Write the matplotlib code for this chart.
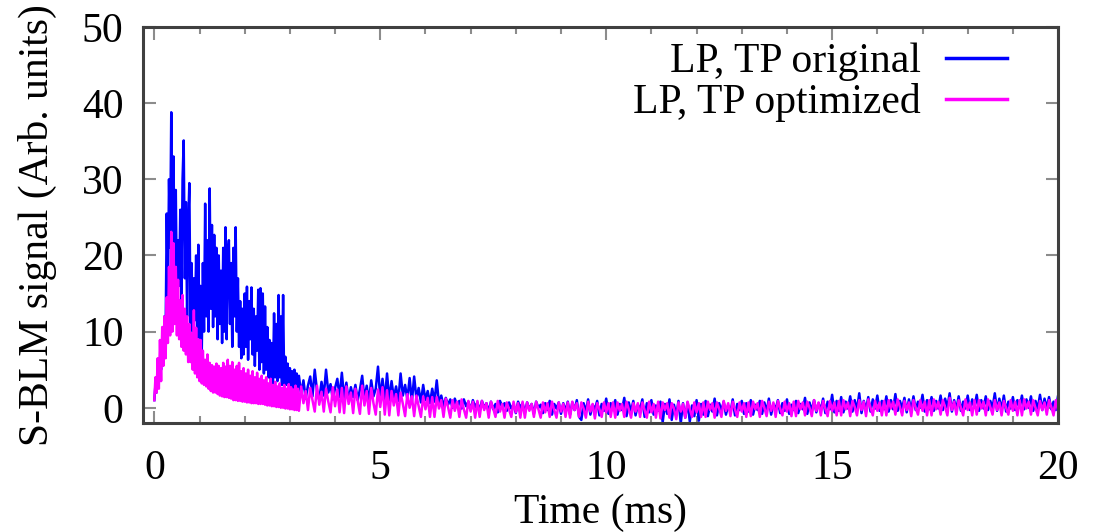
import numpy as np
import matplotlib
matplotlib.use('Agg')
import matplotlib.pyplot as plt
from matplotlib.ticker import MultipleLocator

# S-BLM signal
# early part: one value every 0.025 ms from t = 0
early_step = 0.025
blue_early = [
    1.0, 3.0, 2.0, 4.5, 3.5, 6.0, 5.0, 8.0,
    7.0, 12.0, 9.5, 25.5, 14.0, 30.0, 21.0, 38.8,
    18.0, 33.0, 15.0, 28.6, 13.5, 22.0, 16.0, 26.0,
    14.0, 30.0, 35.1, 17.0, 27.0, 12.0, 24.0, 29.5,
    11.0, 19.0, 10.0, 17.0, 11.5, 20.0, 9.0, 21.4,
    8.0, 16.0, 7.5, 19.0, 10.0, 26.8, 12.0, 22.0,
    10.0, 28.8, 13.0, 24.0, 10.6, 22.7, 12.0, 21.0,
    9.0, 20.0, 11.0, 18.0, 8.5, 21.0, 10.0, 23.7,
    9.0, 20.0, 22.0, 11.0, 19.0, 8.0, 21.0, 12.0,
    23.7, 10.0, 17.0, 8.0, 14.0, 6.5, 13.0, 7.0,
    15.0, 8.0, 15.9, 6.3, 14.0, 9.0, 15.8, 7.0,
    13.0, 5.5, 12.0, 7.5, 15.5, 5.0, 15.7, 6.0,
    15.0, 4.5, 13.3, 5.0, 10.6, 4.0, 8.9, 3.5,
    8.5, 3.2, 12.4, 4.0, 11.0, 3.5, 14.8, 4.0,
    12.0, 3.0, 14.8, 2.5, 6.7, 3.0, 5.8, 2.8,
    5.2, 2.5, 4.8, 2.0, 5.0, 2.2, 4.5, 1.8,
]
magenta_early = [
    1.0, 4.0, 2.0, 6.5, 2.5, 8.9, 3.5, 10.6,
    5.5, 12.0, 6.5, 14.5, 8.5, 18.5, 9.5, 23.1,
    10.0, 21.6, 11.0, 18.5, 9.5, 16.8, 9.0, 14.1,
    8.0, 14.8, 7.5, 13.0, 7.0, 12.0, 6.0, 11.0,
    6.0, 9.8, 5.0, 12.8, 4.5, 10.5, 4.0, 9.0,
    3.5, 8.9, 3.2, 7.5, 3.0, 6.3, 2.8, 7.0,
    2.5, 5.9, 2.2, 5.6, 2.0, 5.4, 2.0, 5.8,
    1.8, 5.5, 1.6, 5.2, 1.5, 5.9, 1.4, 5.4,
    1.4, 6.3, 1.3, 5.5, 1.2, 6.0, 1.0, 5.0,
    1.0, 5.5, 0.9, 5.9, 0.9, 4.8, 0.8, 5.2,
    0.8, 4.5, 0.7, 5.0, 0.7, 4.2, 0.6, 4.8,
    0.6, 4.0, 0.6, 4.6, 0.5, 3.8, 0.5, 4.2,
    0.5, 3.6, 0.4, 4.0, 0.3, 3.2, 0.3, 3.8,
    0.2, 3.0, 0.2, 3.4, 0.1, 2.8, 0.1, 3.2,
    0.0, 2.6, 0.0, 3.0, -0.1, 2.5, -0.1, 3.1,
    -0.2, 2.7, -0.2, 2.4, -0.3, 2.9, -0.3, 2.5,
]

# late part: one value every 0.05 ms from t = 3.2 (one row = 1 ms)
late_start = 3.2
late_step = 0.05
blue_late = [
    4.2, 1.8, 3.6, 1.2, 2.9, 4.1, 1.5, 5.0, 2.2, 1.0, 3.4, 1.6, 5.0, 2.0, 3.1, 1.1, 2.6, 3.8, 1.4, 4.6,
    1.3, 3.3, 0.9, 2.7, 1.4, 3.0, 1.0, 2.4, 4.2, 1.1, 2.9, 0.8, 3.6, 1.5, 2.5, 5.4, 1.2, 3.8, 1.0, 4.5,
    1.0, 3.5, 1.3, 2.8, 0.9, 4.5, 1.6, 3.0, 1.1, 3.9, 0.8, 4.1, 1.2, 2.6, 0.7, 3.0, 1.0, 2.2, 0.6, 2.5,
    0.8, 3.6, 0.5, 1.6, 0.2, 1.3, 0.4, 1.1, 0.0, 1.2, 0.3, 0.9, -0.1, 1.1, 0.2, 0.8, -0.3, 1.0, 0.1, 0.7,
    -0.4, 0.9, 0.0, 0.6, -0.5, 0.8, -0.2, 0.5, -0.6, 0.9, 0.1, 0.6, -0.4, 0.7, -0.1, 0.4, -0.7, 0.8, 0.0, 0.6,
    -0.6, 0.7, -0.2, 0.5, -0.8, 0.8, 0.0, 0.4, -0.7, 0.6, -0.3, 0.9, -0.9, 0.5, -0.1, 0.7, -0.8, 0.6, -0.4, 0.8,
    -0.9, 0.7, -0.3, 1.0, -1.2, -1.6, 0.6, -0.5, 1.1, -0.9, 0.4, -0.2, 0.9, -1.0, 0.5, -0.4, 1.2, -0.8, 0.6, -0.3,
    1.0, -0.9, 0.5, -0.3, 1.3, -1.1, 0.7, -0.5, 0.9, -1.0, 0.4, -0.2, 1.1, -1.2, 0.6, -0.6, 1.0, -0.9, 0.3, -0.4,
    0.8, -1.9, 0.5, -0.8, 1.1, -1.6, 0.4, -1.0, 0.9, -2.0, 0.6, -1.3, 0.7, -1.8, 0.3, -1.1, 1.0, -1.7, 0.5, -0.9,
    0.9, -1.1, 0.4, -0.5, 1.2, -1.0, 0.6, -0.4, 0.8, -0.9, 0.3, -0.6, 1.1, -1.0, 0.5, -0.3, 0.9, -0.8, 0.6, -0.5,
    1.0, -0.9, 0.4, -0.3, 0.9, -0.8, 0.7, -0.5, 1.2, -0.9, 0.5, -0.2, 1.0, -0.7, 0.6, -0.4, 1.1, -0.8, 0.4, -0.3,
    0.9, -0.7, 0.5, -0.2, 1.3, -0.8, 0.7, -0.4, 1.0, -0.6, 0.6, -0.3, 1.2, -0.7, 0.8, -0.2, 1.7, -0.6, 0.9, -0.4,
    1.4, -0.6, 0.8, -0.1, 1.5, -0.5, 1.0, -0.3, 1.9, -0.7, 0.9, -0.2, 1.4, -0.5, 1.1, -0.1, 1.6, -0.4, 0.9, -0.2,
    1.5, -0.5, 1.0, -0.2, 1.8, -0.4, 0.9, -0.1, 1.3, -0.6, 1.1, -0.3, 1.5, -0.3, 0.8, 0.0, 1.7, -0.5, 1.0, -0.2,
    1.4, -0.4, 0.9, -0.1, 1.6, -0.3, 1.2, 0.0, 1.9, -0.5, 1.0, -0.2, 1.5, -0.4, 0.8, -0.1, 1.6, -0.3, 1.1, 0.0,
    1.7, -0.4, 1.0, -0.1, 1.5, -0.3, 0.9, 0.0, 1.9, -0.4, 1.2, -0.2, 1.6, -0.5, 0.8, -0.1, 1.4, -0.3, 1.0, 0.0,
    1.6, -0.2, 1.1, 0.0, 1.5, -0.4, 0.9, -0.1, 1.7, -0.3, 1.2, 0.0, 1.4, -0.2, 0.8, -0.3, 1.6, -0.3, 1.0, -0.1,
]
magenta_late = [
    -0.4, 2.8, 0.6, 2.2, -0.3, 2.6, 1.0, -0.5, 2.9, 0.4, 2.1, -0.5, 2.5, 0.8, -0.6, 2.7, 0.2, 2.4, -0.6, 2.6,
    -0.7, 2.8, 0.5, 2.0, -0.7, 2.5, 0.9, -0.8, 2.9, 0.3, 2.2, -0.8, 2.6, 0.6, -0.9, 2.4, 0.1, 2.7, -0.9, 2.3,
    -1.0, 2.2, 0.3, 1.8, -1.0, 2.0, 0.5, -1.1, 1.8, 0.0, 1.5, -1.1, 1.6, 0.2, -1.2, 1.5, -0.2, 1.3, -1.2, 1.4,
    -1.2, 1.4, -0.1, 1.0, -1.2, 1.2, 0.1, -1.3, 1.0, -0.4, 0.8, -1.2, 1.1, -0.2, -1.3, 0.9, -0.5, 0.8, -1.3, 0.9,
    -1.2, 0.9, -0.3, 0.6, -1.3, 0.8, -0.1, -1.2, 0.9, -0.5, 0.5, -1.3, 0.7, -0.2, -1.2, 0.8, -0.6, 0.6, -1.3, 0.8,
    -1.3, 0.7, -0.4, 0.5, -1.2, 0.8, -0.2, -1.3, 0.7, -0.6, 0.6, -1.2, 0.8, -0.3, -1.3, 0.7, -0.5, 0.5, -1.2, 0.7,
    -1.3, 0.8, -0.3, 0.6, -1.2, 0.7, -0.1, -1.3, 0.8, -0.5, 0.5, -1.4, 0.6, -0.2, -1.2, 0.7, -0.6, 0.6, -1.2, 0.7,
    -1.3, 0.7, -0.4, 0.5, -1.2, 0.8, -0.2, -1.3, 0.6, -0.5, 0.6, -1.2, 0.7, -0.3, -1.3, 0.8, -0.6, 0.5, -1.3, 0.8,
    -1.4, 0.7, -0.3, 0.6, -1.3, 0.6, -0.1, -1.5, 0.7, -0.5, 0.5, -1.3, 0.8, -0.2, -1.2, 0.7, -0.6, 0.6, -1.2, 0.7,
    -1.2, 0.8, -0.3, 0.6, -1.3, 0.7, -0.1, -1.2, 0.9, -0.4, 0.6, -1.1, 0.8, -0.2, -1.2, 0.7, -0.5, 0.6, -1.2, 0.7,
    -1.1, 0.8, -0.2, 0.6, -1.2, 0.9, 0.0, -1.1, 0.8, -0.4, 0.7, -1.2, 0.9, -0.1, -1.0, 0.8, -0.5, 0.6, -1.1, 0.8,
    -1.1, 0.9, -0.2, 0.7, -1.0, 0.8, 0.0, -1.1, 1.0, -0.4, 0.7, -1.0, 0.9, -0.1, -1.1, 0.9, -0.4, 0.7, -1.0, 0.9,
    -1.0, 1.0, -0.2, 0.7, -1.1, 0.9, 0.1, -1.0, 1.0, -0.3, 0.8, -1.1, 1.1, 0.0, -1.0, 0.9, -0.4, 0.7, -1.0, 0.9,
    -1.0, 1.0, -0.1, 0.8, -0.9, 1.1, 0.1, -1.0, 0.9, -0.3, 0.7, -1.1, 1.0, 0.0, -0.9, 1.0, -0.4, 0.8, -1.0, 1.0,
    -1.0, 1.1, -0.2, 0.8, -0.9, 1.0, 0.1, -1.0, 1.3, -0.3, 0.8, -0.9, 1.0, 0.0, -1.0, 1.1, -0.3, 0.7, -1.0, 1.0,
    -0.9, 1.0, -0.1, 0.8, -1.0, 1.1, 0.1, -0.9, 1.0, -0.3, 0.7, -1.0, 0.9, 0.0, -0.9, 1.0, -0.4, 0.8, -1.0, 1.0,
    -1.0, 1.1, -0.1, 0.8, -0.9, 1.0, 0.0, -1.0, 0.9, -0.3, 0.7, -0.9, 1.0, 0.1, -1.0, 1.0, -0.4, 0.8, -1.0, 1.0,
]

labels = ['LP, TP original', 'LP, TP optimized']
x_ticks = [0, 5, 10, 15, 20]
y_ticks = [0, 10, 20, 30, 40, 50]

plt.rcParams['font.family'] = ['Liberation Serif', 'DejaVu Serif']
plt.rcParams['font.size'] = 30

t_early = np.arange(len(blue_early)) * early_step
t_late = late_start + np.arange(len(blue_late)) * late_step
t = np.concatenate([t_early, t_late])
blue = np.concatenate([blue_early, blue_late])
magenta = np.concatenate([magenta_early, magenta_late])

fig = plt.figure(figsize=(11.07, 5.32), dpi=100)
ax = fig.add_axes([0.1292, 0.2049, 0.8266, 0.7444])

ax.plot(t, blue, color='#0000ff', lw=1.8, label=labels[0])
ax.plot(t, magenta, color='#ff00ff', lw=1.8, label=labels[1])

ax.set_xlim(-0.25, 20)
ax.set_ylim(-2, 50)
ax.set_xticks(x_ticks)
ax.set_yticks(y_ticks)
ax.xaxis.set_minor_locator(MultipleLocator(1))

ax.tick_params(which='both', direction='in', top=True, right=True,
               color='#8c8c8c', width=1.5)
ax.tick_params(which='major', length=9, labelsize=30)
ax.tick_params(which='minor', length=5)
ax.tick_params(axis='x', pad=19)
ax.tick_params(axis='y', pad=14)
for s in ax.spines.values():
    s.set_color('#404040')
    s.set_linewidth(2.2)

ax.set_xlabel('Time (ms)', fontsize=30, labelpad=4)
ax.set_ylabel('S-BLM signal (Arb. units)', fontsize=30)
ax.yaxis.set_label_coords(-0.094, 0.5)

leg = ax.legend(loc='upper right', bbox_to_anchor=(0.944, 0.96),
                frameon=False, markerfirst=False, fontsize=30,
                handlelength=1.45, handletextpad=0.62, labelspacing=0.05,
                borderpad=0, borderaxespad=0)
for h in leg.get_lines():
    h.set_linewidth(2.5)

plt.savefig('out.png', dpi=100)
